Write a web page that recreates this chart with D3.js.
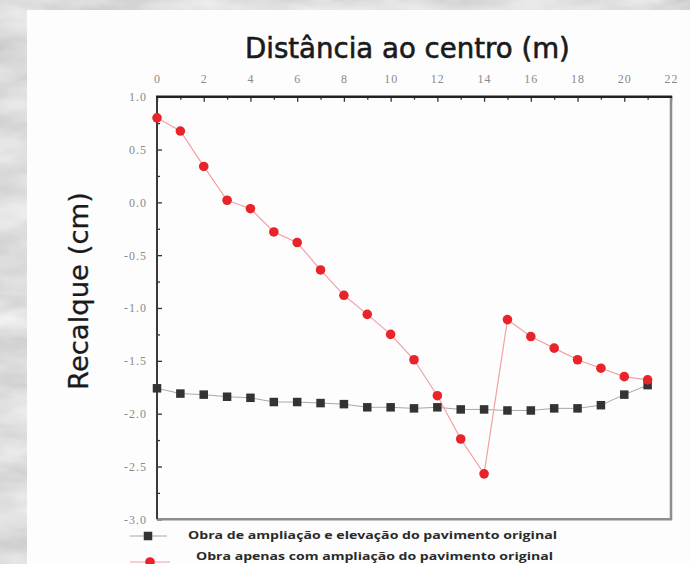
<!DOCTYPE html>
<html>
<head>
<meta charset="utf-8">
<script src="https://cdn.jsdelivr.net/npm/d3@7"></script>
<style>
  html, body { margin: 0; padding: 0; background: #bbb; }
  svg { display: block; }
</style>
</head>
<body>
<svg id="chart" width="690" height="564"></svg>
<script>
// ---- Data ----
const distances = [0,1,2,3,4,5,6,7,8,9,10,11,12,13,14,15,16,17,18,19,20,21];
const serieElevacao = [-1.76,-1.81,-1.82,-1.84,-1.85,-1.89,-1.89,-1.90,-1.91,-1.94,-1.94,-1.95,-1.94,-1.96,-1.96,-1.97,-1.97,-1.95,-1.95,-1.92,-1.82,-1.73];
const serieAmpliacao = [0.80,0.675,0.34,0.02,-0.06,-0.28,-0.38,-0.64,-0.88,-1.06,-1.25,-1.49,-1.83,-2.24,-2.57,-1.11,-1.27,-1.38,-1.49,-1.57,-1.65,-1.68];
const xTicks = [0,2,4,6,8,10,12,14,16,18,20,22];
const yTicks = [1.0,0.5,0.0,-0.5,-1.0,-1.5,-2.0,-2.5,-3.0];
const legendLabels = [
  "Obra de ampliação e elevação do pavimento original",
  "Obra apenas com ampliação do pavimento original"
];
const titleX = "Distância ao centro (m)";
const titleY = "Recalque (cm)";

// ---- Layout ----
const svg = d3.select("#chart");
const W = 690, H = 564;
const plot = {left: 157, right: 671, top: 96.7, bottom: 519.3};

// textured background
const defs = svg.append("defs");
const f = defs.append("filter").attr("id","marble").attr("x",0).attr("y",0).attr("width",W).attr("height",H)
  .attr("filterUnits","userSpaceOnUse");
f.append("feTurbulence").attr("type","fractalNoise").attr("baseFrequency","0.012 0.03").attr("numOctaves",4).attr("seed",11).attr("result","n");
f.append("feColorMatrix").attr("in","n").attr("type","matrix")
  .attr("values","0.26 0.26 0.26 0 0.33  0.26 0.26 0.26 0 0.33  0.26 0.26 0.26 0 0.33  0 0 0 0 1");
svg.append("rect").attr("width",W).attr("height",H).attr("fill","#b0b0b0");
svg.append("rect").attr("x",0).attr("y",0).attr("width",W).attr("height",H).attr("filter","url(#marble)");

// white panel
svg.append("rect").attr("x",27).attr("y",10).attr("width",W-27).attr("height",H-10).attr("fill","#fdfdfd");

const x = d3.scaleLinear().domain([0,22]).range([plot.left, plot.right]);
const y = d3.scaleLinear().domain([-3,1]).range([plot.bottom, plot.top]);

// axes (top and left, inward ticks)
const tickFont = "'Liberation Serif', 'DejaVu Serif', serif";
const fmtY = d => d3.format(".1f")(d).replace("\u2212", "-");
const gx = svg.append("g").attr("transform",`translate(0,${plot.top})`)
  .call(d3.axisTop(x).tickValues(xTicks).tickSize(-5).tickPadding(14).tickFormat(d3.format("d")));
const gxm = svg.append("g").attr("transform",`translate(0,${plot.top})`)
  .call(d3.axisTop(x).tickValues(d3.range(1,22,2)).tickSize(-3).tickFormat(""));
const gy = svg.append("g").attr("transform",`translate(${plot.left},0)`)
  .call(d3.axisLeft(y).tickValues(yTicks).tickSize(-5).tickPadding(10).tickFormat(fmtY));
const gym = svg.append("g").attr("transform",`translate(${plot.left},0)`)
  .call(d3.axisLeft(y).tickValues(d3.range(-2.75,1,0.5)).tickSize(-3).tickFormat(""));
[gx,gxm,gy,gym].forEach(g => {
  g.select(".domain").remove();
  g.selectAll(".tick line").attr("stroke","#333").attr("stroke-width",1.3);
  g.selectAll("text").attr("font-family",tickFont).attr("font-size",12).attr("fill","#8a8a8a").attr("letter-spacing","1px");
});

// frame
svg.append("line").attr("x1",plot.right).attr("x2",plot.right).attr("y1",plot.top).attr("y2",plot.bottom).attr("stroke","#8e8e8e").attr("stroke-width",2.5);
svg.append("line").attr("x1",plot.left).attr("x2",plot.right+1.2).attr("y1",plot.bottom).attr("y2",plot.bottom).attr("stroke","#8e8e8e").attr("stroke-width",2.5);
svg.append("line").attr("x1",plot.left).attr("x2",plot.left).attr("y1",plot.top).attr("y2",plot.bottom).attr("stroke","#3a3a3a").attr("stroke-width",2);
svg.append("line").attr("x1",plot.left-1).attr("x2",plot.right+1.2).attr("y1",plot.top).attr("y2",plot.top).attr("stroke","#222").attr("stroke-width",2.5);

// series
const line = d3.line().x((d,i)=>x(distances[i])).y(d=>y(d));
svg.append("path").datum(serieElevacao).attr("d",line).attr("fill","none").attr("stroke","#a8a8a8").attr("stroke-width",1);
svg.append("path").datum(serieAmpliacao).attr("d",line).attr("fill","none").attr("stroke","#f2a0a4").attr("stroke-width",1.2);

const sq = 8.5;
svg.append("g").selectAll("rect").data(serieElevacao).join("rect")
  .attr("x",(d,i)=>x(distances[i])-sq/2).attr("y",d=>y(d)-sq/2)
  .attr("width",sq).attr("height",sq).attr("fill","#333");
svg.append("g").selectAll("circle").data(serieAmpliacao).join("circle")
  .attr("cx",(d,i)=>x(distances[i])).attr("cy",d=>y(d)).attr("r",4.8).attr("fill","#e8242b");

// fit a text's font-size so its natural width equals target
function fit(sel, target, start) {
  sel.attr("font-size", start);
  const L = sel.node().getComputedTextLength();
  if (L > 0) sel.attr("font-size", start * target / L);
  return sel;
}

// titles
const titleFont = "'DejaVu Sans', 'Open Sans', sans-serif";
const sansFont = "'Open Sans', 'Noto Sans', sans-serif";
const t1 = svg.append("text").attr("x",245).attr("y",58).attr("font-family",titleFont)
  .attr("fill","#1a1a1a").attr("stroke","#1a1a1a").attr("stroke-width",0.6).text(titleX);
fit(t1, 325, 22);
const t2 = svg.append("text").attr("transform","translate(88,291) rotate(-90)").attr("text-anchor","middle")
  .attr("font-family",titleFont).attr("fill","#1a1a1a").attr("stroke","#1a1a1a").attr("stroke-width",0.3).text(titleY);
fit(t2, 198, 20);

// legend
const lg = svg.append("g");
lg.append("line").attr("x1",130).attr("x2",167).attr("y1",536).attr("y2",536).attr("stroke","#a8a8a8").attr("stroke-width",1);
lg.append("rect").attr("x",148-4.25).attr("y",536-4.25).attr("width",8.5).attr("height",8.5).attr("fill","#333");
lg.append("text").attr("x",188).attr("y",538.5).attr("font-family",sansFont).attr("font-weight",700).attr("font-size",10.5)
  .attr("fill","#2a2a2a").attr("textLength",369).attr("lengthAdjust","spacingAndGlyphs").text(legendLabels[0]);
lg.append("line").attr("x1",130).attr("x2",170).attr("y1",562).attr("y2",562).attr("stroke","#f2a0a4").attr("stroke-width",1.2);
lg.append("circle").attr("cx",150).attr("cy",562).attr("r",4.8).attr("fill","#e8242b");
lg.append("text").attr("x",196).attr("y",559.5).attr("font-family",sansFont).attr("font-weight",700).attr("font-size",10.5)
  .attr("fill","#2a2a2a").attr("textLength",357).attr("lengthAdjust","spacingAndGlyphs").text(legendLabels[1]);
</script>
</body>
</html>
